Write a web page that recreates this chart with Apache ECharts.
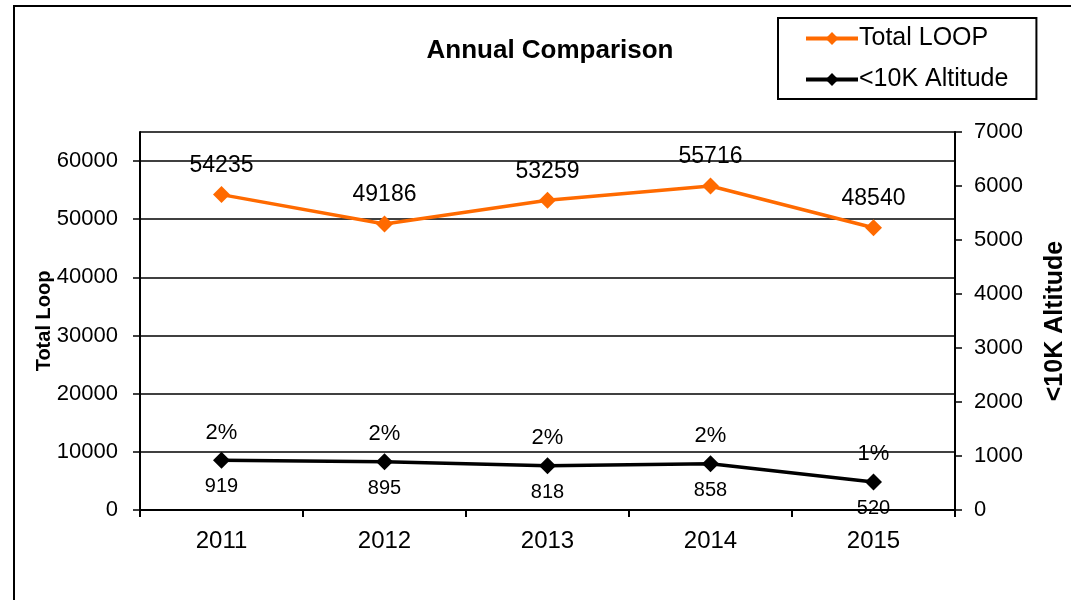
<!DOCTYPE html>
<html>
<head>
    <meta charset="utf-8">
    <title>Annual Comparison</title>
    <script src="https://cdn.jsdelivr.net/npm/echarts@6/dist/echarts.min.js"></script>
    <style type="text/css">
    body{margin:0;background:#fff;}
    #main{width:1071px;height:600px;}
    </style>
</head>
<body>
<div id="main"></div>
<script>
var years = ['2011', '2012', '2013', '2014', '2015'];
var totalLoop = [54235, 49186, 53259, 55716, 48540];
var altitude10k = [919, 895, 818, 858, 520];

// share of <10K flights in the total, shown above the black line
var pctLabels = altitude10k.map(function (v, i) {
    return Math.round(v / totalLoop[i] * 100) + '%';
});

var font = "'Liberation Sans', Arial, sans-serif";
var chart = echarts.init(document.getElementById('main'));

function plain(v) { return String(v); }

var option = {
    backgroundColor: '#fff',
    animation: false,
    textStyle: {fontFamily: font, color: '#000'},
    graphic: [{
        type: 'rect',
        shape: {x: 14, y: 6, width: 1200, height: 700},
        style: {fill: 'none', stroke: '#000', lineWidth: 2},
        silent: true
    }],
    title: {
        text: 'Annual Comparison',
        left: 545,
        top: 33,
        textAlign: 'center',
        textStyle: {fontFamily: font, fontSize: 26, fontWeight: 'bold', color: '#000'}
    },
    legend: {
        orient: 'vertical',
        left: 778,
        top: 18,
        padding: [8, 28, 7, 26],
        itemGap: 16,
        itemWidth: 52,
        itemHeight: 16,
        borderColor: '#000',
        borderWidth: 2,
        lineStyle: {width: 4},
        textStyle: {fontFamily: font, fontSize: 25, color: '#000', padding: [0, 0, 0, -4]},
        data: ['Total LOOP', '<10K Altitude']
    },
    grid: {left: 140, right: 116, top: 132, bottom: 90, containLabel: false, outerBoundsMode: 'none'},
    xAxis: {
        type: 'category',
        data: years,
        boundaryGap: true,
        axisLine: {lineStyle: {color: '#000', width: 2}},
        axisTick: {show: true, length: 7, lineStyle: {color: '#000', width: 2}},
        axisLabel: {fontSize: 24, color: '#000', margin: 19, fontFamily: font}
    },
    yAxis: [{
        type: 'value',
        min: 0,
        max: 65000,
        interval: 10000,
        name: 'Total Loop',
        nameLocation: 'middle',
        nameRotate: 90,
        nameGap: 86,
        nameMoveOverlap: false,
        nameTextStyle: {fontFamily: font, fontSize: 20, fontWeight: 'bold', color: '#000'},
        axisLine: {show: true, lineStyle: {color: '#000', width: 2}},
        axisTick: {show: true, length: 7, lineStyle: {color: '#000', width: 1.5}},
        axisLabel: {fontSize: 22, color: '#000', margin: 22, showMaxLabel: false, fontFamily: font, formatter: plain},
        splitLine: {show: true, lineStyle: {color: '#000', width: 1.5}}
    }, {
        type: 'value',
        min: 0,
        max: 7000,
        interval: 1000,
        position: 'right',
        name: '<10K Altitude',
        nameLocation: 'middle',
        nameRotate: 90,
        nameGap: 88,
        nameTextStyle: {fontFamily: font, fontSize: 25, fontWeight: 'bold', color: '#000'},
        axisLine: {show: true, lineStyle: {color: '#000', width: 2}},
        axisTick: {show: true, length: 7, lineStyle: {color: '#000', width: 1.5}},
        axisLabel: {fontSize: 22, color: '#000', margin: 19, fontFamily: font, formatter: plain},
        splitLine: {show: false}
    }],
    series: [{
        name: 'Total LOOP',
        type: 'line',
        yAxisIndex: 0,
        data: totalLoop,
        color: '#ff6a00',
        symbol: 'diamond',
        symbolSize: 17,
        z: 3,
        lineStyle: {width: 3.5, color: '#ff6a00'},
        label: {show: true, position: 'top', distance: 9, fontSize: 23, color: '#000', fontFamily: font}
    }, {
        name: '<10K Altitude',
        type: 'line',
        yAxisIndex: 1,
        data: altitude10k,
        color: '#000',
        symbol: 'diamond',
        symbolSize: 17,
        z: 3,
        lineStyle: {width: 3.5, color: '#000'},
        label: {show: true, position: 'bottom', distance: 8, fontSize: 20, color: '#000', fontFamily: font}
    }, {
        name: 'pct',
        type: 'line',
        yAxisIndex: 1,
        data: altitude10k,
        symbol: 'circle',
        symbolSize: 1,
        showSymbol: true,
        itemStyle: {color: 'rgba(0,0,0,0)'},
        lineStyle: {width: 0, color: 'rgba(0,0,0,0)'},
        silent: true,
        z: 1,
        label: {
            show: true,
            position: 'top',
            distance: 16,
            fontSize: 22,
            color: '#000',
            fontFamily: font,
            formatter: function (p) { return pctLabels[p.dataIndex]; }
        }
    }]
};

chart.setOption(option);
</script>
</body>
</html>
